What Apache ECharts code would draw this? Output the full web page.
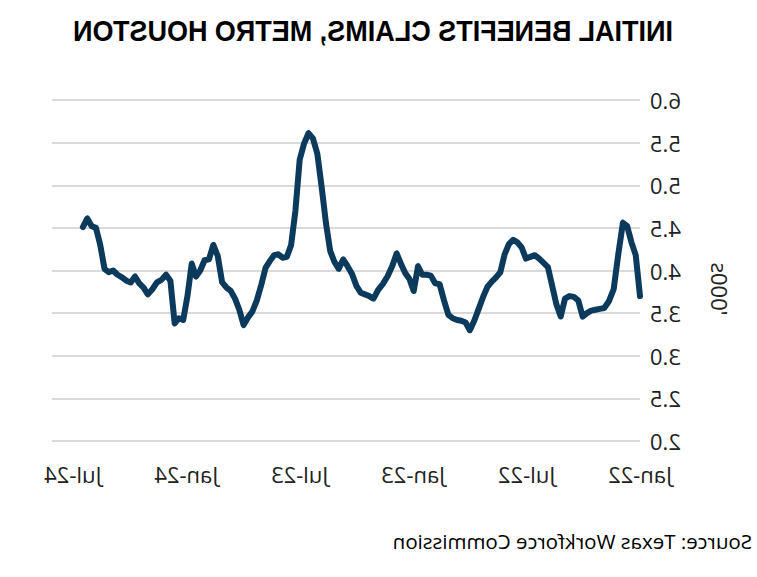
<!DOCTYPE html>
<html><head><meta charset="utf-8">
<script src="https://cdn.jsdelivr.net/npm/echarts@6/dist/echarts.min.js"></script>
<style>html,body{margin:0;padding:0;background:#fff;overflow:hidden}#c{width:757px;height:577px;transform:scaleX(-1);}</style>
</head><body><div id="c"></div>
<script>
// Data (the reference picture is a horizontal mirror image; the page is mirrored with CSS)
const titleText = 'INITIAL BENEFITS CLAIMS, METRO HOUSTON';
const sourceText = 'Source: Texas Workforce Commission';
const axisName = "'000s";
const xTickLabels = ['Jan-22', 'Jul-22', 'Jan-23', 'Jul-23', 'Jan-24', 'Jul-24'];
const yTicks = [2.0, 2.5, 3.0, 3.5, 4.0, 4.5, 5.0, 5.5, 6.0];
const firstWeek = '2022-01-01';
const claims = [
  3.70, 4.18, 4.33, 4.52, 4.56, 4.20, 3.78, 3.64, 3.56, 3.55,
  3.54, 3.53, 3.50, 3.46, 3.65, 3.69, 3.70, 3.67, 3.46, 3.60,
  3.82, 4.04, 4.09, 4.14, 4.18, 4.16, 4.14, 4.27, 4.33, 4.36,
  4.31, 4.19, 3.98, 3.92, 3.87, 3.81, 3.69, 3.55, 3.41, 3.30,
  3.39, 3.41, 3.42, 3.44, 3.48, 3.65, 3.84, 3.85, 3.94, 3.95,
  3.95, 4.05, 3.76, 3.90, 3.97, 4.08, 4.20, 4.05, 3.93, 3.84,
  3.77, 3.67, 3.70, 3.72, 3.74, 3.82, 3.96, 4.05, 4.13, 4.02,
  4.10, 4.23, 4.56, 4.98, 5.37, 5.55, 5.61, 5.49, 5.30, 4.70,
  4.30, 4.16, 4.15, 4.19, 4.18, 4.11, 4.03, 3.83, 3.65, 3.52,
  3.45, 3.36, 3.54, 3.67, 3.76, 3.80, 3.86, 4.17, 4.30, 4.13,
  4.12, 4.00, 3.93, 4.08, 3.70, 3.42, 3.44, 3.38, 3.88, 3.95,
  3.89, 3.86, 3.78, 3.72, 3.80, 3.85, 3.93, 3.86, 3.88, 3.92,
  3.95, 4.00, 3.98, 4.02, 4.30, 4.50, 4.52, 4.61, 4.51
];

// month index since Jan 2022 for a weekly date
function monthIndex(d) {
  const y = d.getUTCFullYear(), m = d.getUTCMonth(), day = d.getUTCDate();
  const dim = new Date(Date.UTC(y, m + 1, 0)).getUTCDate();
  return (y - 2022) * 12 + m + (day - 1) / dim;
}
const start = new Date(firstWeek + 'T00:00:00Z');
const seriesData = claims.map((v, i) => {
  const d = new Date(start.getTime() + i * 7 * 86400000);
  return [monthIndex(d), v];
});

const chart = echarts.init(document.getElementById('c'), null, {renderer: 'svg'});
const textColor = '#222';
chart.setOption({
  animation: false,
  backgroundColor: '#fff',
  grid: {left: 117, right: 52, top: 100, bottom: 136, containLabel: false},
  xAxis: {
    type: 'value', min: 0, max: 31.1, interval: 6,
    axisLine: {show: false}, axisTick: {show: false}, splitLine: {show: false},
    axisLabel: {
      showMaxLabel: false, margin: 22,
      fontFamily: 'Open Sans', fontSize: 22, color: textColor,
      formatter: v => (Math.abs(v % 6) < 1e-9 && v / 6 < xTickLabels.length) ? xTickLabels[Math.round(v / 6)] : ''
    }
  },
  yAxis: {
    type: 'value', min: yTicks[0], max: yTicks[yTicks.length - 1], interval: 0.5,
    axisLine: {show: false}, axisTick: {show: false},
    splitLine: {lineStyle: {color: '#d9d9d9', width: 2}},
    axisLabel: {margin: 10, fontFamily: 'Open Sans', fontSize: 22, color: textColor,
      formatter: v => v.toFixed(1)}
  },
  graphic: [
    {type: 'text', x: 384, y: 30, scaleX: 0.9,
      style: {text: titleText, font: 'bold 30px "Liberation Sans", Arial', fill: '#000', align: 'center', verticalAlign: 'middle'}},
    {type: 'text', x: 37, y: 289, rotation: Math.PI / 2,
      style: {text: axisName, font: '22px "Open Sans"', fill: textColor, align: 'center', verticalAlign: 'middle'}},
    {type: 'text', x: 5, y: 541,
      style: {text: sourceText, font: '20.5px "Open Sans"', fill: '#000', align: 'left', verticalAlign: 'middle'}}
  ],
  series: [{
    type: 'line', data: seriesData, showSymbol: false, symbol: 'none',
    lineStyle: {color: '#0c3a5c', width: 6, join: 'round', cap: 'round'}
  }]
});
</script></body></html>
